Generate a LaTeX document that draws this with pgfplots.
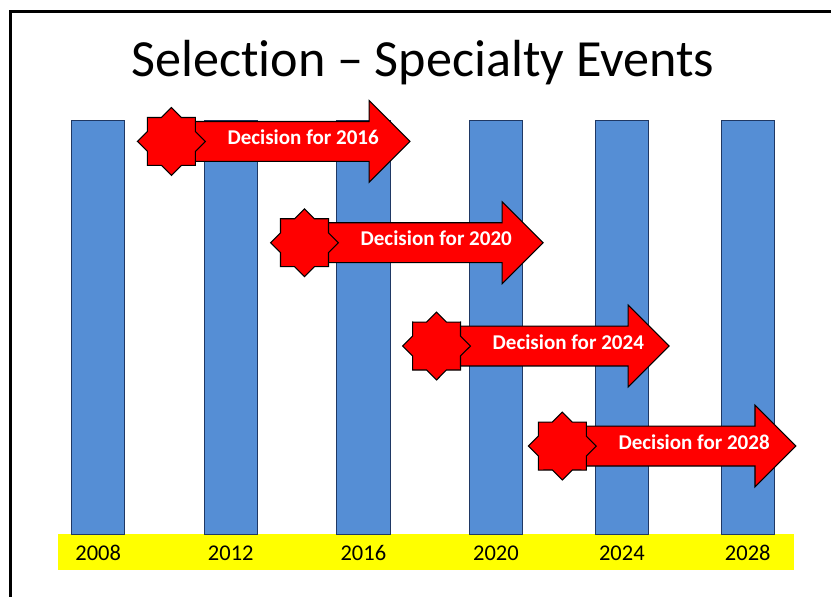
\documentclass[border=0pt]{standalone}
\usepackage{fontspec}
\setmainfont{Carlito}[Ligatures=NoCommon]
\usepackage{pgfplots}
\pgfplotsset{compat=1.18}

\definecolor{barblue}{RGB}{85,142,213}
\definecolor{baredge}{RGB}{31,56,100}
\definecolor{bandyellow}{RGB}{255,255,0}

% arrow with 8-point star; #1,#2 = star centre (axis units), #3 = year, #4 = tip offset (px)
\newcommand{\decision}[4]{%
  \begin{scope}[shift={(axis cs:#1,#2)}, x=0.75pt, y=0.75pt]
    \draw[fill=red, draw=black, line width=0.8pt, line join=miter]
      (22,20) -- ({#4-41},20) -- ({#4-41},41) -- (#4,0) -- ({#4-41},-41) -- ({#4-41},-20) -- (22,-20) -- cycle;
    \draw[fill=red, draw=black, line width=0.8pt, line join=miter]
      (0:34) \foreach \k in {0,...,7} { -- ({\k*45+22.5}:26) -- ({\k*45+45}:34) } -- cycle;
    \node[anchor=base, text=white, inner sep=0pt,
          font=\bfseries\fontsize{15.8}{18}\selectfont] at (132,-3) {Decision for #3};
  \end{scope}}

\begin{document}
\begin{tikzpicture}
\begin{axis}[
    x=99.6pt, y=31.05pt,
    xmin=-0.741, xmax=5.524,
    ymin=-1.522, ymax=12.92,
    axis line style={draw=none},
    ytick=\empty,
    xtick={0,1,2,3,3.95,4.9},
    xticklabels={2008,2012,2016,2020,2024,2028},
    major tick length=0pt,
    xticklabel style={anchor=base, yshift=27.2pt, font=\fontsize{16.9}{20}\selectfont},
    set layers,
    clip=false,
]
% yellow year band
\begin{pgfonlayer}{axis background}
\fill[bandyellow] (axis cs:-0.304,-0.870) rectangle (axis cs:5.245,0);
\end{pgfonlayer}

\addplot[ybar, bar width=0.403, fill=barblue, draw=baredge, line width=0.75pt]
coordinates {
(0,10)
(1,10)
(2,10)
(3,10)
(3.95,10)
(4.9,10)
};

% frame
\draw[line width=2.25pt, line join=miter]
  (axis cs:-0.662,-1.522) -- (axis cs:-0.662,12.64) -- (axis cs:5.524,12.64);

\node[anchor=base, font=\fontsize{39.2}{47}\selectfont]
  at (axis cs:2.448,11.07) {Selection – Specialty Events};

\decision{0.552}{9.50}{2016}{239}
\decision{1.556}{7.05}{2020}{239}
\decision{2.552}{4.55}{2024}{233}
\decision{3.501}{2.13}{2028}{234}
\end{axis}
\end{tikzpicture}
\end{document}
